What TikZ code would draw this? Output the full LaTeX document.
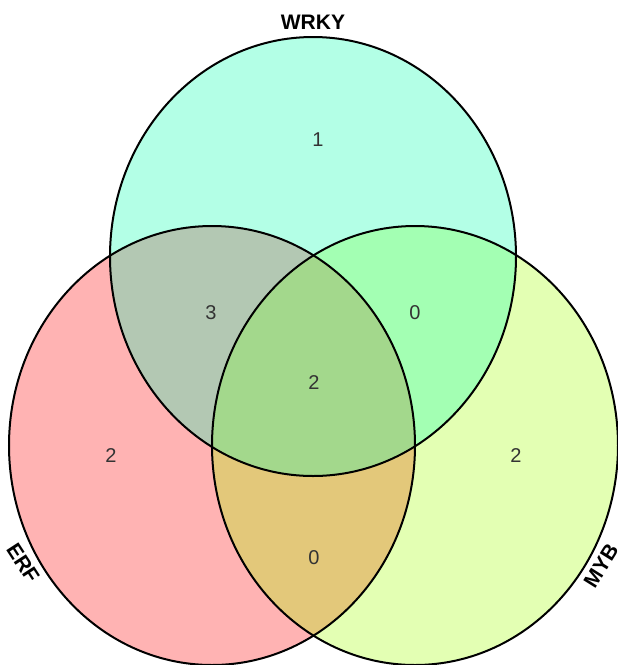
\documentclass[tikz,border=0pt]{standalone}
\usepackage{fontspec}
\setmainfont{Liberation Sans}
\definecolor{cW}{HTML}{B3FFE6}
\definecolor{cE}{HTML}{FFB3B3}
\definecolor{cM}{HTML}{E3FFB3}
\definecolor{cWE}{HTML}{B3C8B3}
\definecolor{cWM}{HTML}{A3FFB3}
\definecolor{cEM}{HTML}{E3C87A}
\definecolor{cAll}{HTML}{A3D88C}
\begin{document}
\begin{tikzpicture}[x=1pt,y=-1pt,
  num/.style={font=\fontsize{20}{24}\selectfont, text=black!80},
  setlabel/.style={font=\fontsize{21}{25}\selectfont\bfseries, text=black},
  rim/.style={draw=black, line width=2pt}]
\useasboundingbox (0,0) rectangle (618,665);
\def\wrky{(313,256.5) ellipse [x radius=203, y radius=219.5]}
\def\erf{(212,445.5) ellipse [x radius=203, y radius=219.5]}
\def\myb{(415,445.5) ellipse [x radius=203, y radius=219.5]}
\fill[cW] \wrky;
\fill[cE] \erf;
\fill[cM] \myb;
\begin{scope}\clip \wrky; \fill[cWE] \erf; \end{scope}
\begin{scope}\clip \wrky; \fill[cWM] \myb; \end{scope}
\begin{scope}\clip \erf; \fill[cEM] \myb; \end{scope}
\begin{scope}\clip \wrky; \clip \erf; \fill[cAll] \myb; \end{scope}
\draw[rim] \wrky;
\draw[rim] \erf;
\draw[rim] \myb;
\node[setlabel] (lw) at (313,22) {WRKY};
\node[setlabel, rotate=-57] (le) at (23,563) {ERF};
\node[setlabel, rotate=58] (lm) at (601,566) {MYB};
\node[num] (n1) at (318,140) {1};
\node[num] (n3) at (211,313) {3};
\node[num] (n0a) at (415,313) {0};
\node[num] (n2c) at (314,383) {2};
\node[num] (n2e) at (111,456) {2};
\node[num] (n2m) at (516,456) {2};
\node[num] (n0b) at (314,558) {0};
\end{tikzpicture}
\end{document}
